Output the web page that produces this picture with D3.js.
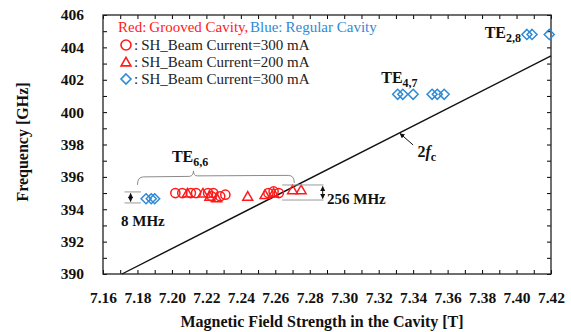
<!DOCTYPE html>
<html>
<head>
<meta charset="utf-8">
<script src="https://cdn.jsdelivr.net/npm/d3@7"></script>
<style>
  body { margin: 0; background: #fff; }
  svg, svg text { font-family: 'Liberation Serif', 'Times New Roman', 'DejaVu Serif', serif; }
</style>
</head>
<body>
<svg id="chart" width="571" height="332"></svg>
<script>
// grooved cavity, 300 mA (circles)
const groovedB300 = [7.202, 7.206, 7.211, 7.214, 7.221, 7.223, 7.224, 7.228, 7.231, 7.256, 7.259, 7.262];
const groovedF300 = [395.0, 395.0, 395.0, 395.0, 395.0, 394.8, 395.0, 394.8, 394.9, 395.0, 395.1, 395.0];
// grooved cavity, 200 mA (triangles)
const groovedB200 = [7.209, 7.218, 7.222, 7.226, 7.244, 7.254, 7.259, 7.270, 7.275];
const groovedF200 = [395.0, 395.0, 394.8, 394.7, 394.8, 394.9, 395.0, 395.2, 395.2];
// regular cavity, 300 mA (diamonds)
const regularB300 = [7.185, 7.188, 7.190, 7.331, 7.334, 7.340, 7.351, 7.354, 7.358, 7.406, 7.409, 7.419];
const regularF300 = [394.65, 394.65, 394.65, 401.1, 401.1, 401.1, 401.1, 401.1, 401.1, 404.8, 404.8, 404.8];
// 2fc line
const cutoffB = [7.171, 7.42];
const cutoffF = [390, 403.47];

const xTickLabels = [7.16, 7.18, 7.20, 7.22, 7.24, 7.26, 7.28, 7.30, 7.32, 7.34, 7.36, 7.38, 7.40, 7.42];
const yTickLabels = [390, 392, 394, 396, 398, 400, 402, 404, 406];

const red = "#ff1a1a", blue = "#2f8ad6";
const svg = d3.select("#chart");
const m = { left: 103, right: 551, top: 15, bottom: 274 };

const x = d3.scaleLinear().domain([7.16, 7.42]).range([m.left, m.right]);
const y = d3.scaleLinear().domain([390, 406]).range([m.bottom, m.top]);

const minorX = d3.range(0, 27).map(i => +(7.16 + i * 0.01).toFixed(2));
const minorY = d3.range(390, 407);

function styleAxis(g) {
  g.attr("font-family", null);
  g.select(".domain").remove();
  g.selectAll("line").attr("stroke", "#000").attr("stroke-width", 1);
  g.selectAll("text").attr("font-size", 15.5).attr("font-weight", "bold").attr("fill", "#111");
}

// ticks (inward) on all four sides
svg.append("g").attr("transform", `translate(0,${m.bottom})`)
  .call(d3.axisBottom(x).tickValues(minorX).tickSize(-4).tickFormat(""))
  .call(styleAxis);
svg.append("g").attr("transform", `translate(0,${m.top})`)
  .call(d3.axisTop(x).tickValues(minorX).tickSize(-4).tickFormat(""))
  .call(styleAxis);
svg.append("g").attr("transform", `translate(${m.left},0)`)
  .call(d3.axisLeft(y).tickValues(minorY).tickSize(-4).tickFormat(""))
  .call(styleAxis);
svg.append("g").attr("transform", `translate(${m.right},0)`)
  .call(d3.axisRight(y).tickValues(minorY).tickSize(-4).tickFormat(""))
  .call(styleAxis);

// tick labels
svg.append("g").attr("transform", `translate(0,${m.bottom})`)
  .call(d3.axisBottom(x).tickValues(xTickLabels).tickSize(0).tickPadding(18).tickFormat(d3.format(".2f")))
  .call(styleAxis);
svg.append("g").attr("transform", `translate(${m.left},0)`)
  .call(d3.axisLeft(y).tickValues(yTickLabels).tickSize(0).tickPadding(19).tickFormat(d3.format("d")))
  .call(styleAxis);

// frame
svg.append("rect").attr("x", m.left).attr("y", m.top)
  .attr("width", m.right - m.left).attr("height", m.bottom - m.top)
  .attr("fill", "none").attr("stroke", "#222").attr("stroke-width", 1.3);

// axis titles
svg.append("text").attr("x", 322).attr("y", 327).attr("text-anchor", "middle")
  .attr("font-size", 16).attr("font-weight", "bold").attr("fill", "#111")
  .text("Magnetic Field Strength in the Cavity [T]");
svg.append("text").attr("transform", "translate(28,142) rotate(-90)").attr("text-anchor", "middle")
  .attr("font-size", 16).attr("font-weight", "bold").attr("fill", "#111")
  .text("Frequency [GHz]");

const plot = svg.append("g");

// 2fc line
plot.append("line")
  .attr("x1", x(cutoffB[0])).attr("y1", y(cutoffF[0]))
  .attr("x2", x(cutoffB[1])).attr("y2", y(cutoffF[1]))
  .attr("stroke", "#111").attr("stroke-width", 1.4);

// markers
const circles = groovedB300.map((b, i) => [b, groovedF300[i]]);
const tris = groovedB200.map((b, i) => [b, groovedF200[i]]);
const diamonds = regularB300.map((b, i) => [b, regularF300[i]]);

plot.selectAll(".circ").data(circles).join("circle")
  .attr("cx", d => x(d[0])).attr("cy", d => y(d[1])).attr("r", 4.6)
  .attr("fill", "none").attr("stroke", red).attr("stroke-width", 1.5);

const triPath = d3.symbol().type(d3.symbolTriangle).size(42)();
plot.selectAll(".tri").data(tris).join("path")
  .attr("d", triPath).attr("transform", d => `translate(${x(d[0])},${y(d[1]) + 1})`)
  .attr("fill", "none").attr("stroke", red).attr("stroke-width", 1.5);

const diamondPath = "M0,-5L5,0L0,5L-5,0Z";
plot.selectAll(".dia").data(diamonds).join("path")
  .attr("d", diamondPath).attr("transform", d => `translate(${x(d[0])},${y(d[1])})`)
  .attr("fill", "none").attr("stroke", blue).attr("stroke-width", 1.5);

// mode labels
function modeLabel(px, py, sub) {
  const t = svg.append("text").attr("x", px).attr("y", py)
    .attr("font-size", 16).attr("font-weight", "bold").attr("fill", "#111");
  t.append("tspan").text("TE");
  t.append("tspan").attr("font-size", 12).attr("dy", 4).text(sub);
}
modeLabel(x(7.2), y(396.9), "6,6");
modeLabel(x(7.3215), y(401.8), "4,7");
modeLabel(x(7.3815), y(404.6), "2,8");

// brace over TE6,6
const bx0 = x(7.180), bx1 = x(7.271), bxm = x(7.2125), by = y(396.0);
svg.append("path")
  .attr("d", `M${bx0},${by + 8} Q${bx0},${by} ${bx0 + 6},${by} L${bxm - 4},${by - 0.5} Q${bxm},${by - 1} ${bxm},${by - 6} Q${bxm},${by - 1} ${bxm + 4},${by - 1} L${bx1 - 6},${by - 1.5} Q${bx1},${by - 1.5} ${bx1},${by + 6}`)
  .attr("fill", "none").attr("stroke", "#8a8a8a").attr("stroke-width", 1);

// arrow markers
const defs = svg.append("defs");
defs.append("marker").attr("id", "ah").attr("viewBox", "0 0 10 10").attr("refX", 9).attr("refY", 5)
  .attr("markerWidth", 5).attr("markerHeight", 5).attr("orient", "auto-start-reverse")
  .append("path").attr("d", "M0,0L10,5L0,10Z").attr("fill", "#111");

// spacing annotation
function spanMark(bx0v, bx1v, fTop, fBot, ax, label, lx, ly, anchor) {
  [fTop, fBot].forEach(f => svg.append("line")
    .attr("x1", x(bx0v)).attr("x2", x(bx1v)).attr("y1", y(f)).attr("y2", y(f))
    .attr("stroke", "#999").attr("stroke-width", 1));
  svg.append("line").attr("x1", x(ax)).attr("x2", x(ax))
    .attr("y1", y(fTop) + 1.5).attr("y2", y(fBot) - 1.5)
    .attr("stroke", "#111").attr("stroke-width", 1)
    .attr("marker-start", "url(#ah)").attr("marker-end", "url(#ah)");
  svg.append("text").attr("x", lx).attr("y", ly).attr("text-anchor", anchor)
    .attr("font-size", 15).attr("font-weight", "bold").attr("fill", "#111").text(label);
}
spanMark(7.1725, 7.182, 395.07, 394.39, 7.176, "8 MHz", 121, 226, "start");
spanMark(7.264, 7.288, 395.5, 394.57, 7.2875, "256 MHz", 327, 204, "start");

// 2fc pointer
svg.append("line").attr("x1", x(7.340)).attr("y1", y(397.97))
  .attr("x2", x(7.3324)).attr("y2", y(398.68))
  .attr("stroke", "#111").attr("stroke-width", 1).attr("marker-end", "url(#ah)");
const fc = svg.append("text").attr("x", x(7.3425)).attr("y", y(397.2))
  .attr("font-size", 16).attr("font-weight", "bold").attr("fill", "#111");
fc.append("tspan").text("2");
fc.append("tspan").attr("font-style", "italic").text("f");
fc.append("tspan").attr("font-size", 12).attr("dy", 4).text("c");

// legend
const lg = svg.append("g").attr("font-size", 15);
lg.append("text").attr("x", 118).attr("y", 32).attr("fill", red).text("Red:\u2009Grooved Cavity,");
lg.append("text").attr("x", 250).attr("y", 32).attr("fill", blue).text("Blue:\u2009Regular Cavity");
const rows = [
  { y: 50, sym: "circle", color: red, label: ":\u2009SH_Beam Current=300 mA" },
  { y: 67, sym: "tri", color: red, label: ":\u2009SH_Beam Current=200 mA" },
  { y: 84, sym: "dia", color: blue, label: ":\u2009SH_Beam Current=300 mA" }
];
rows.forEach(r => {
  const cy = r.y - 5, cx = 126;
  if (r.sym === "circle") {
    lg.append("circle").attr("cx", cx).attr("cy", cy).attr("r", 5)
      .attr("fill", "none").attr("stroke", r.color).attr("stroke-width", 1.6);
  } else if (r.sym === "tri") {
    lg.append("path").attr("d", triPath).attr("transform", `translate(${cx},${cy + 1})`)
      .attr("fill", "none").attr("stroke", r.color).attr("stroke-width", 1.6);
  } else {
    lg.append("path").attr("d", diamondPath).attr("transform", `translate(${cx},${cy})`)
      .attr("fill", "none").attr("stroke", r.color).attr("stroke-width", 1.6);
  }
  lg.append("text").attr("x", 134).attr("y", r.y).attr("fill", "#222").text(r.label);
});
</script>
</body>
</html>
